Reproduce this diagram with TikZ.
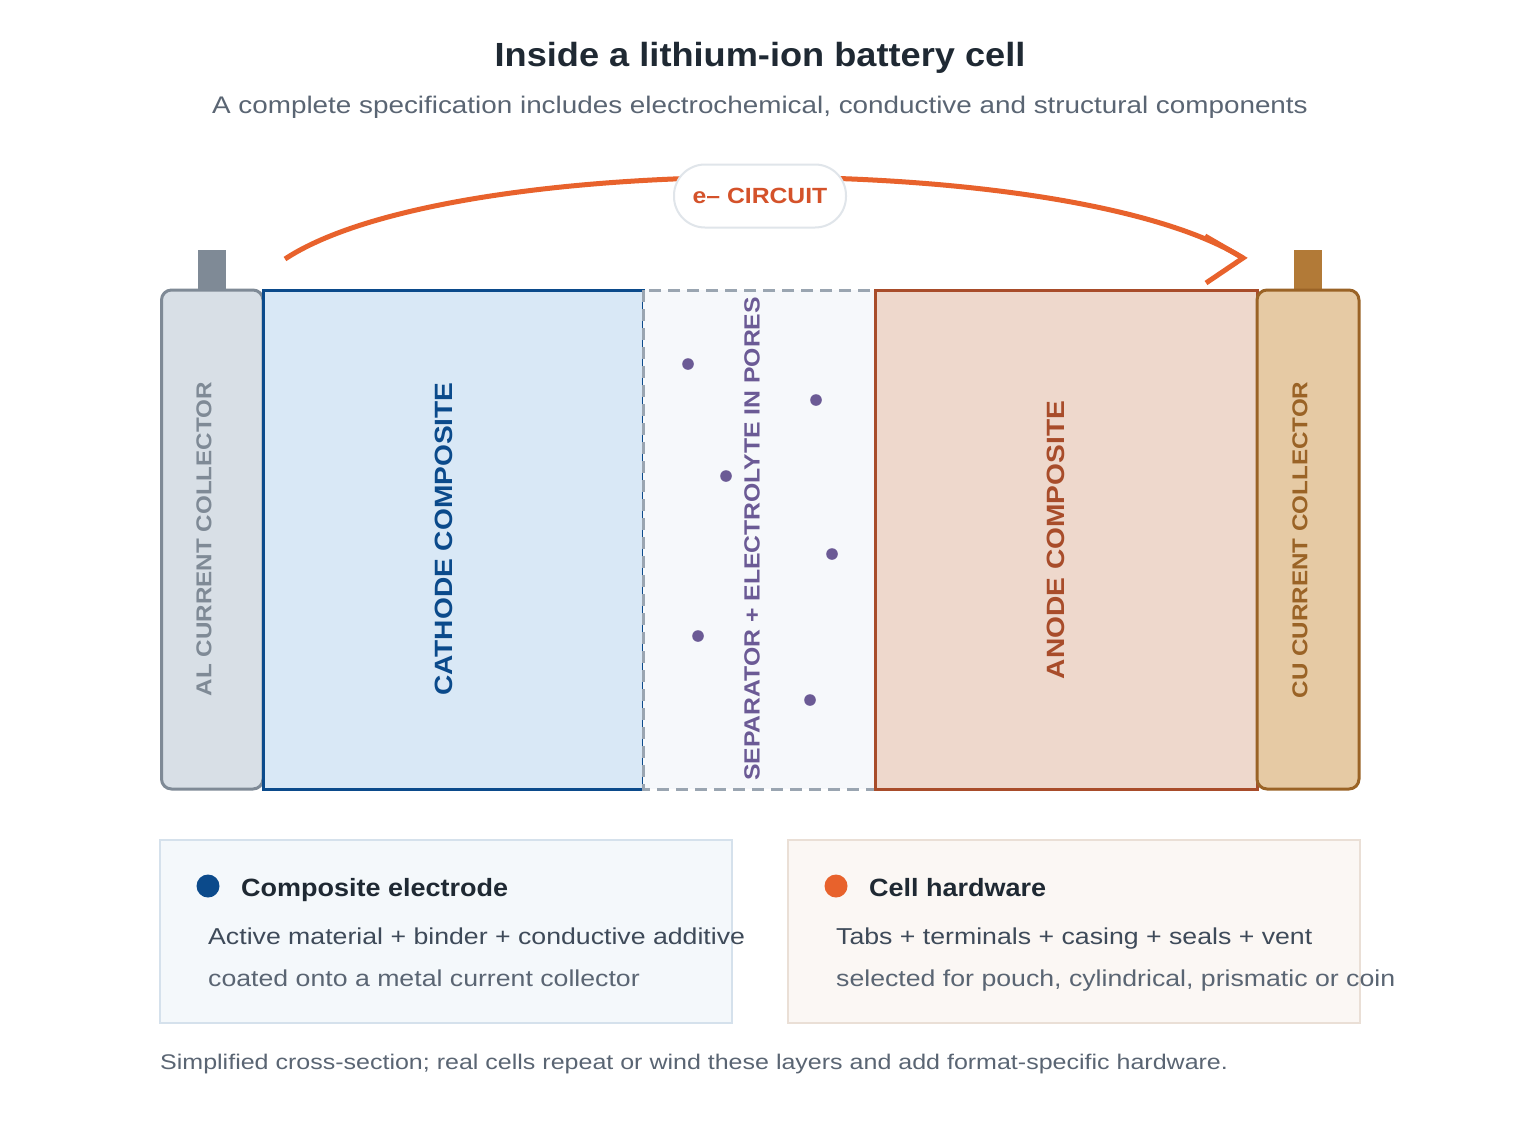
\documentclass[tikz,border=0pt]{standalone}
\usepackage{fontspec}
\setmainfont[FakeStretch=1.16]{Liberation Sans}
\newfontfamily\boldf[FakeStretch=1.08]{Liberation Sans}
\newfontfamily\capf[FakeStretch=1.125]{Liberation Sans}
\newfontfamily\footf[FakeStretch=1.18]{Liberation Sans}
\begin{document}
\begin{tikzpicture}[x=1pt,y=-1pt,
  every node/.style={inner sep=0pt},
  layerlabel/.style={rotate=90,font=\capf\fontsize{25}{30}\selectfont\bfseries},
  collabel/.style={rotate=90,font=\capf\fontsize{21.5}{26}\selectfont\bfseries},
  legendbox/.style={line width=1.5pt},
  headtext/.style={anchor=base west,font=\boldf\fontsize{25}{30}\selectfont\bfseries,text=titlec},
  bodytext/.style={anchor=base west,font=\fontsize{23}{28}\selectfont},
]
\definecolor{titlec}{HTML}{1F2933}
\definecolor{subc}{HTML}{5A6573}
\definecolor{alfill}{HTML}{D8DFE6}
\definecolor{aldraw}{HTML}{7F8A96}
\definecolor{cafill}{HTML}{D9E8F6}
\definecolor{cadraw}{HTML}{0B4A8B}
\definecolor{sepfill}{HTML}{F6F8FB}
\definecolor{sepdraw}{HTML}{9AA5B1}
\definecolor{sepc}{HTML}{6B5A95}
\definecolor{anfill}{HTML}{EED8CC}
\definecolor{andraw}{HTML}{A84C2A}
\definecolor{cufill}{HTML}{E6CAA4}
\definecolor{cudraw}{HTML}{9A6326}
\definecolor{cutab}{HTML}{B27A37}
\definecolor{circ}{HTML}{E8622C}
\definecolor{circtext}{HTML}{D4522A}
\definecolor{pilldraw}{HTML}{E0E5EA}
\definecolor{lbfill}{HTML}{F4F8FB}
\definecolor{lbdraw}{HTML}{D5E1EC}
\definecolor{rbfill}{HTML}{FBF7F4}
\definecolor{rbdraw}{HTML}{EADFD6}
\definecolor{body1}{HTML}{3E4A59}
\definecolor{body2}{HTML}{5A6573}
\useasboundingbox[fill=white] (0,0) rectangle (1520,1120);

% title
\node[font=\boldf\fontsize{33.5}{40}\selectfont\bfseries,text=titlec] (title) at (760,58) {Inside a lithium-ion battery cell};
\node[font=\fontsize{24}{28}\selectfont,text=subc] (subtitle) at (760,107) {A complete specification includes electrochemical, conductive and structural components};

% tabs
\fill[aldraw] (198,250) rectangle (226,292);
\fill[cutab] (1294,250) rectangle (1322,292);

% layers
\draw[fill=alfill,draw=aldraw,line width=3pt,rounded corners=10pt] (161.5,290) rectangle (263,789);
\draw[fill=cafill,draw=cadraw,line width=3pt] (263,290) rectangle (643,789);
\draw[fill=sepfill,draw=sepdraw,line width=3pt,dash pattern=on 12pt off 7pt] (643,290) rectangle (875,789);
\draw[fill=anfill,draw=andraw,line width=3pt] (875,290) rectangle (1257,789);
\draw[fill=cufill,draw=cudraw,line width=3pt,rounded corners=10pt] (1257,290) rectangle (1359,789);

% labels
\node[collabel,text=aldraw] (allab) at (204,539) {AL CURRENT COLLECTOR};
\node[layerlabel,text=cadraw] (calab) at (444,539) {CATHODE COMPOSITE};
\node[collabel,text=sepc,font=\capf\fontsize{22}{26}\selectfont\bfseries] (seplab) at (752,539) {SEPARATOR + ELECTROLYTE IN PORES};
\node[layerlabel,text=andraw] (anlab) at (1056,540) {ANODE COMPOSITE};
\node[collabel,text=cudraw] (culab) at (1300,540) {CU CURRENT COLLECTOR};

% pores
\foreach \px/\py in {688/364,816/400,726/476,832/554,698/636,810/700}
  \fill[sepc] (\px,\py) circle (5.8);

% circuit
\coordinate (cstart) at (285,259);
\coordinate (cend) at (1243,258);
\draw[circ,line width=5pt] (cstart) .. controls (450,150) and (1070,150) .. (cend);
\draw[circ,line width=5pt,line join=miter] ([shift={(-38,-22)}]cend) -- (cend) -- ([shift={(-37,25)}]cend);
\node[draw=pilldraw,fill=white,line width=2pt,rounded corners=31pt,minimum width=172pt,minimum height=63pt,
  font=\capf\fontsize{22}{26}\selectfont\bfseries,text=circtext] (pill) at (760,196) {e\textendash{} CIRCUIT};

% legend boxes
\draw[legendbox,fill=lbfill,draw=lbdraw] (160,840) rectangle (732,1023);
\draw[legendbox,fill=rbfill,draw=rbdraw] (788,840) rectangle (1360,1023);
\fill[cadraw] (208,886) circle (11.5);
\fill[circ] (836,886) circle (11.5);
\node[headtext] (lh) at (241,896) {Composite electrode};
\node[bodytext,text=body1] (l1) at (208,944) {Active material + binder + conductive additive};
\node[bodytext,text=body2] (l2) at (208,986) {coated onto a metal current collector};
\node[headtext] (rh) at (869,896) {Cell hardware};
\node[bodytext,text=body1] (r1) at (836,944) {Tabs + terminals + casing + seals + vent};
\node[bodytext,text=body2] (r2) at (836,986) {selected for pouch, cylindrical, prismatic or coin};

% footer
\node[anchor=base west,font=\footf\fontsize{21.2}{26}\selectfont,text=subc] (foot) at (160,1069) {Simplified cross-section; real cells repeat or wind these layers and add format-specific hardware.};
\end{tikzpicture}
\end{document}
